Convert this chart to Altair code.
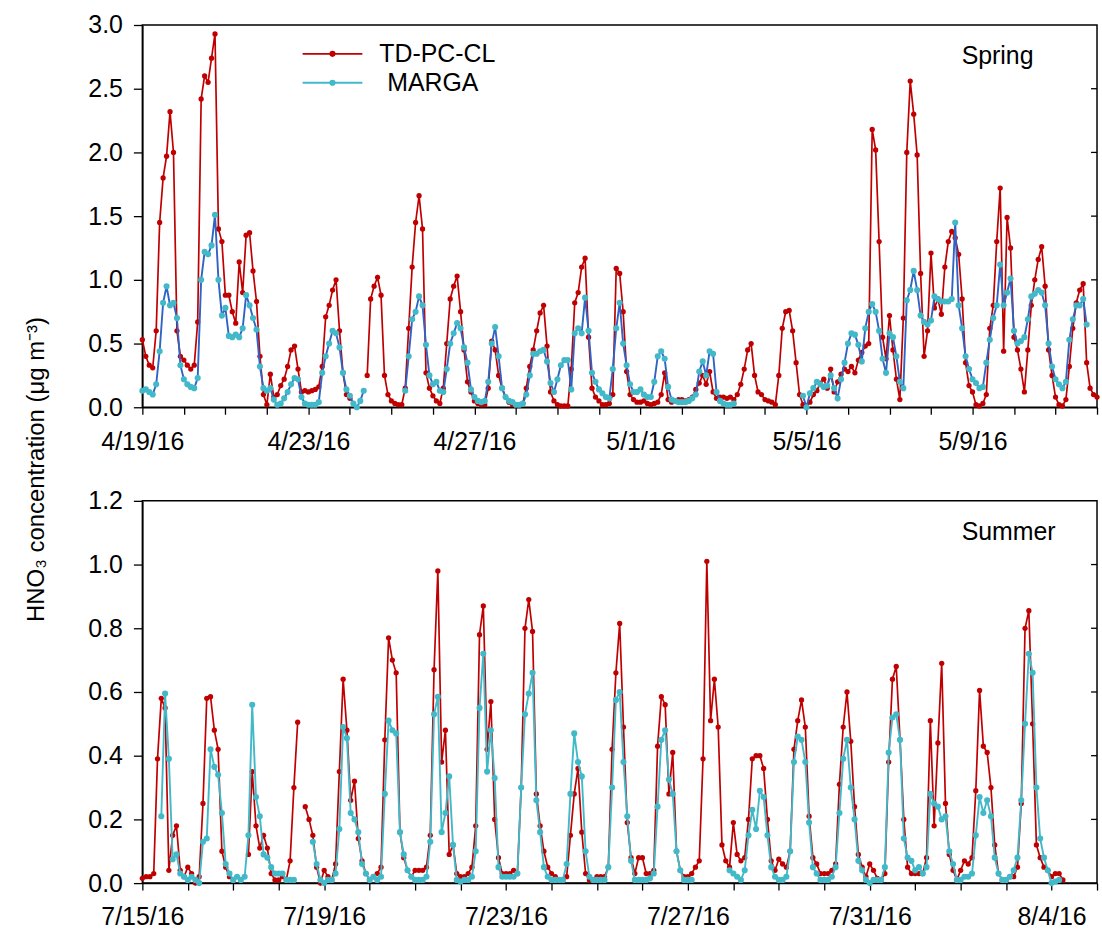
import json
import altair as alt
import pandas as pd

# Two-hourly HNO3 concentrations (ug m-3); None marks a gap in the record.
STEP_DAYS = 2 / 24

SPRING_DAYS = 23
SPRING_TICK_LABELS = ["4/19/16", "4/23/16", "4/27/16", "5/1/16", "5/5/16", "5/9/16"]
SPRING_TD = [
    0.53, 0.40, 0.33, 0.31, 0.60, 1.45, 1.80, 1.97, 2.32, 2.00, 0.60, 0.40,
    0.37, 0.33, 0.30, 0.33, 0.67, 2.42, 2.60, 2.55, 2.74, 2.93, 1.40, 1.30,
    0.88, 0.88, 0.75, 0.66, 1.14, 0.90, 1.35, 1.37, 1.07, 0.83, 0.40, 0.10,
    0.02, 0.26, 0.08, 0.10, 0.17, 0.22, 0.32, 0.45, 0.48, 0.30, 0.12, 0.13,
    0.12, 0.13, 0.14, 0.16, 0.32, 0.71, 0.80, 0.92, 1.00, 0.60, 0.27, 0.10,
    0.07, None, None, None, None, 0.25, 0.85, 0.95, 1.02, 0.88, 0.25, 0.10,
    0.05, 0.03, 0.02, 0.02, 0.15, 0.62, 1.10, 1.45, 1.66, 1.40, 0.27, 0.15,
    0.09, 0.05, 0.03, 0.15, 0.50, 0.85, 0.95, 1.03, 0.75, 0.45, 0.20, 0.12,
    0.05, 0.03, 0.02, 0.02, 0.15, 0.52, 0.45, 0.25, 0.15, 0.08, 0.04, 0.02,
    0.02, 0.02, 0.03, 0.15, 0.32, 0.45, 0.60, 0.74, 0.80, 0.48, 0.12, 0.05,
    0.02, 0.01, 0.01, 0.01, 0.30, 0.82, 0.90, 1.10, 1.17, 0.55, 0.15, 0.08,
    0.05, 0.02, 0.02, 0.03, 0.10, 1.09, 1.05, 0.75, 0.28, 0.10, 0.06, 0.04,
    0.04, 0.05, 0.03, 0.02, 0.03, 0.04, 0.10, 0.27, 0.06, 0.04, 0.05, 0.06,
    0.06, 0.05, 0.06, 0.08, 0.14, 0.19, 0.25, 0.18, 0.28, 0.12, 0.07, 0.08,
    0.08, 0.07, 0.08, 0.06, 0.10, 0.18, 0.30, 0.45, 0.50, 0.25, 0.12, 0.10,
    0.06, 0.05, 0.04, 0.02, 0.25, 0.62, 0.75, 0.76, 0.60, 0.35, 0.10, 0.02,
    0.01, 0.04, 0.10, 0.13, 0.19, 0.22, 0.15, 0.30, 0.12, 0.20, 0.26, 0.30,
    0.28, 0.32, 0.27, 0.37, 0.43, 0.48, 0.50, 2.18, 2.02, 1.30, 0.55, 0.38,
    0.72, 0.45, 0.22, 0.06, 0.70, 2.00, 2.56, 2.30, 1.98, 1.05, 0.40, 0.60,
    1.21, 0.78, 0.85, 0.73, 1.10, 1.30, 1.38, 1.33, 1.20, 0.85, 0.35, 0.17,
    0.12, 0.02, 0.01, 0.03, 0.10, 0.62, 0.80, 1.30, 1.72, 0.44, 1.49, 1.25,
    0.55, 0.45, 0.30, 0.12, 0.45, 0.80, 1.00, 1.16, 1.26, 0.95, 0.45, 0.25,
    0.08, 0.02, 0.01, 0.06, 0.32, 0.62, 0.82, 0.92, 0.97, 0.35, 0.15, 0.10,
    0.08,
]
SPRING_MARGA = [
    0.13, 0.14, 0.12, 0.10, 0.18, 0.44, 0.82, 0.95, 0.80, 0.82, 0.70, 0.33,
    0.22, 0.18, 0.16, 0.15, 0.23, 1.00, 1.22, 1.20, 1.27, 1.51, 1.00, 0.72,
    0.78, 0.56, 0.55, 0.57, 0.55, 0.62, 0.88, 0.80, 0.70, 0.61, 0.32, 0.15,
    0.13, 0.15, 0.06, 0.02, 0.03, 0.07, 0.12, 0.18, 0.23, 0.22, 0.08, 0.03,
    0.02, 0.02, 0.02, 0.04, 0.27, 0.40, 0.50, 0.60, 0.58, 0.47, 0.27, 0.14,
    0.09, 0.03, 0.00, 0.05, 0.13, None, None, None, None, None, None, None,
    None, None, None, None, 0.13, 0.40, 0.69, 0.75, 0.87, 0.80, 0.49, 0.25,
    0.18, 0.20, 0.13, 0.12, 0.30, 0.50, 0.58, 0.66, 0.62, 0.47, 0.35, 0.14,
    0.08, 0.05, 0.04, 0.05, 0.20, 0.50, 0.63, 0.40, 0.15, 0.08, 0.05, 0.04,
    0.02, 0.02, 0.03, 0.10, 0.25, 0.42, 0.42, 0.44, 0.45, 0.36, 0.19, 0.12,
    0.22, 0.33, 0.37, 0.37, 0.14, 0.58, 0.62, 0.58, 0.86, 0.60, 0.27, 0.20,
    0.14, 0.11, 0.08, 0.07, 0.30, 0.62, 0.82, 0.50, 0.33, 0.18, 0.12, 0.12,
    0.14, 0.10, 0.08, 0.08, 0.20, 0.40, 0.44, 0.38, 0.16, 0.06, 0.05, 0.04,
    0.04, 0.04, 0.05, 0.07, 0.10, 0.28, 0.36, 0.25, 0.44, 0.42, 0.12, 0.05,
    0.03, 0.02, 0.02, 0.03, None, None, None, None, None, None, None, None,
    None, None, None, None, None, None, None, None, None, None, None, 0.09,
    0.00, 0.11, 0.15, 0.20, 0.18, 0.16, 0.17, 0.25, 0.15, 0.07, 0.22, 0.35,
    0.50, 0.58, 0.57, 0.49, 0.36, 0.62, 0.75, 0.81, 0.75, 0.60, 0.38, 0.27,
    0.58, 0.55, 0.40, 0.20, 0.15, 0.84, 0.92, 1.07, 0.92, 0.72, 0.67, 0.65,
    0.68, 0.87, 0.85, 0.83, 0.83, 0.83, 0.85, 1.45, 0.80, 0.62, 0.40, 0.30,
    0.22, 0.19, 0.15, 0.16, 0.35, 0.53, 0.70, 0.80, 1.12, 0.80, 0.90, 1.01,
    0.60, 0.50, 0.52, 0.55, 0.69, 0.87, 0.89, 0.92, 0.90, 0.80, 0.50, 0.32,
    0.22, 0.18, 0.15, 0.20, 0.53, 0.69, 0.80, 0.80, 0.85, 0.65, None, None,
    None,
]

SUMMER_DAYS = 21
SUMMER_TICK_LABELS = ["7/15/16", "7/19/16", "7/23/16", "7/27/16", "7/31/16", "8/4/16"]
SUMMER_TD = [
    0.015, 0.02, 0.02, 0.03, 0.39, 0.58, 0.55, 0.04, 0.15, 0.18, 0.04, 0.02,
    0.05, 0.03, 0.00, 0.02, 0.25, 0.58, 0.585, 0.48, 0.42, 0.10, 0.05, 0.02,
    0.01, None, None, None, 0.09, 0.35, 0.18, 0.11, 0.15, 0.11, 0.03, 0.01,
    0.01, 0.02, 0.01, 0.07, 0.30, 0.505, None, 0.24, 0.20, 0.15, 0.05, 0.00,
    0.04, 0.02, 0.01, 0.06, 0.35, 0.64, 0.48, 0.26, 0.32, 0.14, 0.07, 0.03,
    0.01, 0.02, 0.03, 0.05, 0.45, 0.77, 0.70, 0.66, 0.16, 0.08, 0.04, 0.02,
    0.04, 0.04, 0.04, 0.05, 0.15, 0.67, 0.98, 0.38, 0.48, 0.09, 0.12, 0.03,
    0.02, 0.02, 0.03, 0.05, 0.18, 0.78, 0.87, 0.42, 0.57, 0.20, 0.08, 0.03,
    0.03, 0.03, 0.04, 0.03, 0.30, 0.80, 0.89, 0.79, 0.28, 0.18, 0.10, 0.05,
    0.03, 0.02, 0.01, 0.01, 0.02, 0.15, 0.28, 0.36, 0.16, 0.03, 0.01, 0.01,
    0.02, 0.02, 0.02, 0.05, 0.42, 0.66, 0.815, 0.49, 0.19, 0.08, 0.03, 0.08,
    0.08, 0.03, 0.03, 0.04, 0.43, 0.585, 0.56, 0.28, 0.41, 0.10, 0.04, 0.02,
    0.02, 0.03, 0.05, 0.07, 0.39, 1.01, 0.51, 0.64, 0.49, 0.12, 0.07, 0.05,
    0.19, 0.09, 0.07, 0.08, 0.20, 0.39, 0.40, 0.40, 0.36, 0.20, 0.07, 0.04,
    0.075, 0.06, 0.05, 0.10, 0.42, 0.51, 0.575, 0.49, 0.21, 0.08, 0.06, 0.03,
    0.03, 0.03, 0.04, 0.06, 0.31, 0.49, 0.60, 0.445, 0.24, 0.09, 0.05, 0.02,
    0.06, 0.04, 0.015, 0.01, 0.03, 0.38, 0.64, 0.68, 0.45, 0.20, 0.05, 0.03,
    0.03, 0.03, 0.03, 0.08, 0.51, 0.18, 0.44, 0.69, 0.25, 0.09, 0.04, 0.01,
    0.04, 0.07, 0.06, 0.08, 0.29, 0.605, 0.43, 0.41, 0.30, 0.12, 0.03, 0.01,
    0.01, 0.02, 0.02, 0.05, 0.25, 0.80, 0.855, 0.50, 0.12, 0.08, 0.05, 0.04,
    0.02, 0.03, 0.03, 0.01,
]
SUMMER_MARGA = [
    None, None, None, None, None, 0.21, 0.595, 0.39, 0.075, 0.09, 0.03, 0.02,
    0.01, 0.02, 0.01, 0.00, 0.13, 0.14, 0.42, 0.365, 0.34, 0.22, 0.06, 0.03,
    0.01, 0.02, 0.01, 0.02, 0.15, 0.56, 0.27, 0.21, 0.09, 0.08, 0.05, 0.03,
    0.03, 0.03, 0.01, 0.01, 0.01, None, None, None, None, 0.13, 0.06, 0.01,
    0.00, 0.01, 0.01, 0.03, 0.17, 0.49, 0.455, 0.22, 0.20, 0.16, 0.06, 0.03,
    0.01, 0.02, 0.01, 0.02, 0.28, 0.51, 0.48, 0.47, 0.16, 0.09, 0.04, 0.02,
    0.01, 0.01, 0.01, 0.02, 0.13, 0.53, 0.585, 0.16, 0.22, 0.335, 0.12, 0.01,
    0.005, 0.01, 0.01, 0.02, 0.10, 0.55, 0.72, 0.35, 0.48, 0.33, 0.05, 0.02,
    0.02, 0.02, 0.02, 0.03, 0.30, 0.53, 0.595, 0.66, 0.26, 0.16, 0.05, 0.02,
    0.01, 0.01, 0.01, 0.01, 0.06, 0.28, 0.47, 0.38, 0.335, 0.10, 0.02, 0.01,
    0.01, 0.01, 0.01, 0.05, 0.30, 0.575, 0.60, 0.38, 0.21, 0.07, 0.01, 0.01,
    0.01, 0.01, 0.015, 0.03, 0.24, 0.45, 0.48, 0.325, 0.28, 0.10, 0.04, 0.01,
    0.01, 0.01, None, None, None, None, None, None, None, None, None, 0.04,
    0.03, 0.02, 0.01, 0.04, 0.15, 0.23, 0.17, 0.29, 0.27, 0.15, 0.05, 0.02,
    0.01, 0.01, 0.02, 0.10, 0.38, 0.46, 0.45, 0.38, 0.19, 0.05, 0.03, 0.01,
    0.01, 0.01, 0.02, 0.05, 0.22, 0.39, 0.45, 0.30, 0.20, 0.07, 0.04, 0.01,
    0.00, 0.01, 0.01, 0.01, 0.05, 0.41, 0.52, 0.53, 0.45, 0.14, 0.08, 0.07,
    0.04, 0.05, 0.03, 0.05, 0.28, 0.25, 0.24, 0.20, 0.21, 0.10, 0.06, 0.01,
    0.01, 0.02, 0.02, 0.03, 0.15, 0.27, 0.22, 0.26, 0.21, 0.08, 0.03, 0.01,
    0.01, 0.02, 0.04, 0.08, 0.26, 0.50, 0.72, 0.66, 0.30, 0.14, 0.08, 0.04,
    0.00, 0.005, 0.01,
]

LEGEND_NAMES = ["TD-PC-CL", "MARGA"]

RED = "#C00000"
CYAN = "#42B9C9"
BLUE = "#2F63C4"
FONT = "Liberation Sans"
W, H = 959, 384


def series_frame(values):
    return pd.DataFrame({"t": [i * STEP_DAYS for i in range(len(values))],
                         "v": values})


def panel(td, marga, days, tick_labels, ymax, ystep, season, marga_line,
          y_title=None, legend=False):
    label_expr = (f"datum.value % 4 === 0 ? {json.dumps(tick_labels)}"
                  f"[datum.value / 4] : ''")
    x = alt.X("t:Q",
              scale=alt.Scale(domain=[0, days], nice=False, zero=False),
              axis=alt.Axis(values=list(range(days + 1)), labelExpr=label_expr,
                            title=None, grid=False, tickSize=7, tickWidth=1.3,
                            tickColor="black", domainColor="black",
                            domainWidth=1.5, labelFont=FONT, labelFontSize=25,
                            labelColor="black", labelPadding=15,
                            labelFlush=False, labelOverlap=False))
    n_ticks = int(round(ymax / ystep))
    y_values = [round(i * ystep, 2) for i in range(n_ticks + 1)]
    y_axis = dict(values=y_values, format=".1f", grid=False, tickSize=9,
                  tickWidth=1.3, tickColor="black", domainColor="black",
                  domainWidth=1.5, labelFont=FONT, labelFontSize=25,
                  labelColor="black", labelPadding=11, labelFlush=False)
    if y_title:
        y_axis.update(title=y_title, titleFont=FONT, titleFontSize=24,
                      titleFontWeight="normal", titleColor="black",
                      titleAngle=270, titleAlign="center",
                      titleBaseline="middle", titleX=-106, titleY=446)
    else:
        y_axis.update(title=None)
    y = alt.Y("v:Q", scale=alt.Scale(domain=[0, ymax], nice=False),
              axis=alt.Axis(**y_axis))

    td_df = series_frame(td)
    mg_df = series_frame(marga)

    td_line = alt.Chart(td_df).mark_line(
        color=RED, strokeWidth=1.7, invalid="break-paths-filter-domains"
    ).encode(x=x, y=y)
    td_pts = alt.Chart(td_df).mark_circle(color=RED, size=28, opacity=1).encode(x=x, y=y)
    mg_line = alt.Chart(mg_df).mark_line(
        color=marga_line, strokeWidth=1.9, invalid="break-paths-filter-domains"
    ).encode(x=x, y=y)
    mg_pts = alt.Chart(mg_df).mark_circle(color=CYAN, size=38, opacity=1).encode(x=x, y=y)

    # inward ticks along the right-hand frame
    right_ticks = alt.Chart(pd.DataFrame({"v": y_values[1:-1]})).mark_rule(
        color="black", strokeWidth=1.3
    ).encode(y=alt.Y("v:Q"), x=alt.value(W - 6), x2=alt.value(W))

    season_text = alt.Chart(pd.DataFrame({"s": [season]})).mark_text(
        font=FONT, fontSize=25, align="left", baseline="middle", color="black"
    ).encode(text="s:N", x=alt.value(823), y=alt.value(31))

    layers = [td_line, td_pts, mg_line, mg_pts, right_ticks, season_text]

    if legend:
        # legend rows: sample line, marker, and label
        for name, row, color, text_x in [(LEGEND_NAMES[0], 29, RED, 238),
                                         (LEGEND_NAMES[1], 58, CYAN, 246)]:
            one = pd.DataFrame({"name": [name]})
            layers.append(alt.Chart(one).mark_rule(color=color, strokeWidth=2).encode(
                x=alt.value(161), x2=alt.value(221), y=alt.value(row)))
            layers.append(alt.Chart(one).mark_circle(color=color, size=38, opacity=1).encode(
                x=alt.value(191), y=alt.value(row)))
            layers.append(alt.Chart(one).mark_text(
                font=FONT, fontSize=25, align="left", baseline="middle", color="black"
            ).encode(text="name:N", x=alt.value(text_x), y=alt.value(row)))

    return alt.layer(*layers).properties(width=W, height=H)


spring = panel(SPRING_TD, SPRING_MARGA, SPRING_DAYS, SPRING_TICK_LABELS,
               3.0, 0.5, "Spring", BLUE,
               y_title="HNO\u2083 concentration (\u03bcg m\u207b\u00b3)", legend=True)
summer = panel(SUMMER_TD, SUMMER_MARGA, SUMMER_DAYS, SUMMER_TICK_LABELS,
               1.2, 0.2, "Summer", CYAN)

chart = alt.vconcat(spring, summer, spacing=94, bounds="flush").properties(
    padding={"left": 24, "top": 10, "right": 0, "bottom": 0},
    background="white",
).configure_view(stroke="black", strokeWidth=1.5)

chart.save("out.html", embed_options={"renderer": "svg", "actions": False})
